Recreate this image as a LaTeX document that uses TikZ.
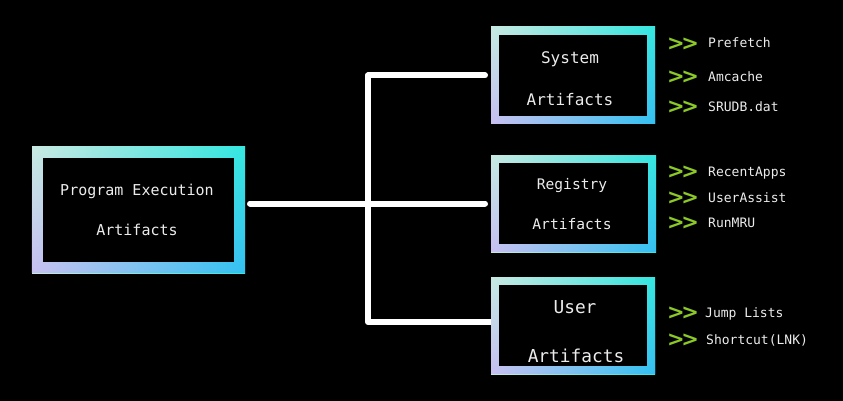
\documentclass[tikz,border=0pt]{standalone}
\usepackage{fontspec}
\setmonofont{DejaVu Sans Mono}
\newfontfamily\chevfont{DejaVu Sans}
\usetikzlibrary{fadings}
\definecolor{gTL}{RGB}{200,234,226}
\definecolor{gTR}{RGB}{52,232,224}
\definecolor{gBL}{RGB}{200,192,242}
\definecolor{gBR}{RGB}{52,192,242}
\definecolor{txtgray}{RGB}{236,236,236}
\definecolor{chevgreen}{RGB}{140,200,40}
\tikzset{
  conn/.style={draw=white, line width=6pt, line cap=round, line join=round},
  gframe/.style={inner sep=0pt, outer sep=0pt},
  boxtxt/.style={text=txtgray, inner sep=0pt, text depth=0pt},
  item/.style={anchor=west, text=txtgray, inner sep=0pt, text height=9.4pt, text depth=0pt,
    font=\ttfamily\fontsize{13}{13}\selectfont},
  chev/.style={anchor=west, text=chevgreen, inner sep=0pt, text height=12.4pt, text depth=0pt,
    font=\chevfont\bfseries\fontsize{21}{21}\selectfont}
}
\newcommand\gradfill[2]{%
  \shade[left color=gTL, right color=gTR] (#1.north west) rectangle (#1.south east);
  \shade[left color=gBL, right color=gBR, path fading=north] (#1.north west) rectangle (#1.south east);
  \fill[black] ([shift={(#2,-#2)}]#1.north west) rectangle ([shift={(-#2,#2)}]#1.south east);
}
\newcommand\chevs{>\kern-3.5pt>}
\begin{document}
\begin{tikzpicture}[x=1pt,y=-1pt]
\fill[black] (0,0) rectangle (843,401);
\useasboundingbox (0,0) rectangle (843,401);
% box frames (nodes)
\node[gframe, minimum width=213pt, minimum height=126pt] (main) at (138.5,210) {};
\node[gframe, minimum width=164pt, minimum height=97pt] (sys) at (573,75.5) {};
\node[gframe, minimum width=165pt, minimum height=97pt] (reg) at (573.5,203.5) {};
\node[gframe, minimum width=164pt, minimum height=97pt] (usr) at (573,325.5) {};
\coordinate (hub) at (368,203);
% connectors
\draw[conn] (main.east |- reg.west) ++(5pt,0) -- ([xshift=-6pt]reg.west);
\draw[conn] ([xshift=-6pt]sys.west) -| (hub) |- ([yshift=3.5pt]usr.west);
% gradient boxes
\gradfill{main}{11pt}
\gradfill{sys}{8pt}
\gradfill{reg}{8pt}
\gradfill{usr}{8pt}
% box texts
\node[boxtxt, text height=11pt, font=\ttfamily\fontsize{15}{15}\selectfont] (mainA) at (137,190) {Program Execution};
\node[boxtxt, text height=11pt, font=\ttfamily\fontsize{15}{15}\selectfont] (mainB) at (137,230) {Artifacts};
\node[boxtxt, text height=11.6pt, font=\ttfamily\fontsize{16}{16}\selectfont] (sysA) at (570,58) {System};
\node[boxtxt, text height=11.6pt, font=\ttfamily\fontsize{16}{16}\selectfont] (sysB) at (570,100) {Artifacts};
\node[boxtxt, text height=10.6pt, font=\ttfamily\fontsize{14.6}{14.6}\selectfont] (regA) at (572,184) {Registry};
\node[boxtxt, text height=10.6pt, font=\ttfamily\fontsize{14.6}{14.6}\selectfont] (regB) at (572,224) {Artifacts};
\node[boxtxt, text height=13pt, font=\ttfamily\fontsize{17.8}{17.8}\selectfont] (usrA) at (575,307) {User};
\node[boxtxt, text height=13pt, font=\ttfamily\fontsize{17.8}{17.8}\selectfont] (usrB) at (576,356) {Artifacts};
% lists
\node[chev] (c1) at (667,44) {\chevs};  \node[item] (i1) at (708,43) {Prefetch};
\node[chev] (c2) at (667,77) {\chevs};  \node[item] (i2) at (708,77) {Amcache};
\node[chev] (c3) at (667,107) {\chevs}; \node[item] (i3) at (708,107) {SRUDB.dat};
\node[chev] (c4) at (667,172) {\chevs}; \node[item] (i4) at (708,172) {RecentApps};
\node[chev] (c5) at (667,198) {\chevs}; \node[item] (i5) at (708,198) {UserAssist};
\node[chev] (c6) at (667,223) {\chevs}; \node[item] (i6) at (708,223) {RunMRU};
\node[chev] (c7) at (667,313) {\chevs}; \node[item] (i7) at (705,313) {Jump Lists};
\node[chev] (c8) at (667,340) {\chevs}; \node[item] (i8) at (706,340) {Shortcut(LNK)};
\end{tikzpicture}
\end{document}
